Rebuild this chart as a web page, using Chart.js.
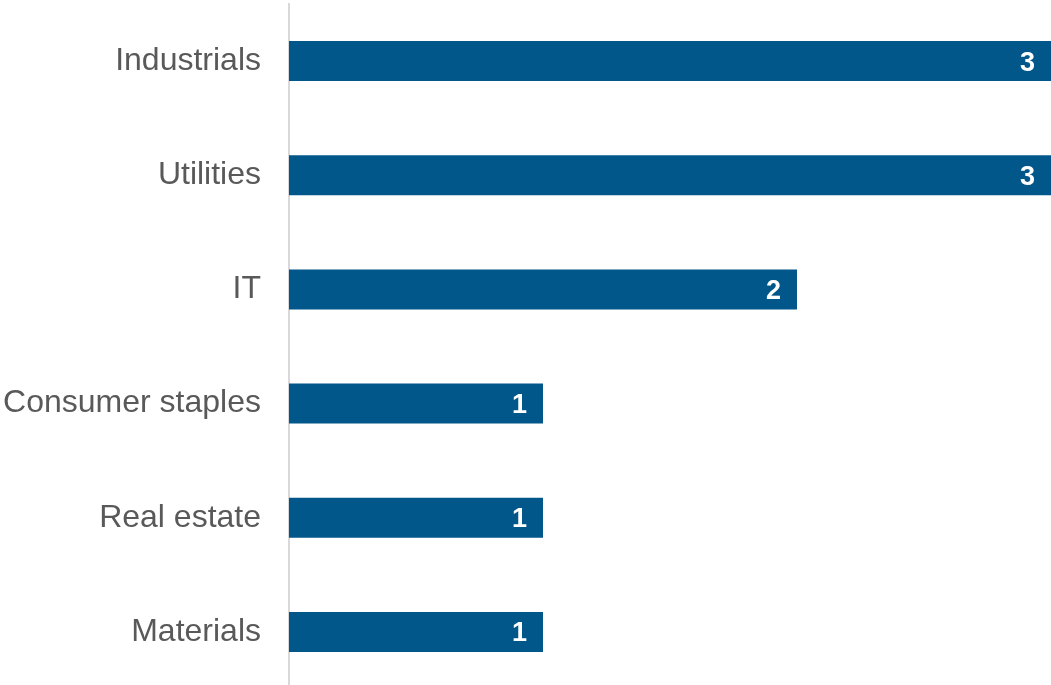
<!DOCTYPE html>
<html>
<head>
<meta charset="utf-8">
<script src="https://cdn.jsdelivr.net/npm/chart.js@4"></script>
<style>
    html, body { margin: 0; padding: 0; background: #fff; overflow: hidden; }
    #wrap { position: relative; width: 1051px; height: 689px; }
</style>
</head>
<body>
<div id="wrap"><canvas id="myChart"></canvas></div>
<script>
const labels = [
    'Industrials',
    'Utilities',
    'IT',
    'Consumer staples',
    'Real estate',
    'Materials',
];

const counts = [3, 3, 2, 1, 1, 1];

const barColor = '#02578A';

// white value labels inside the end of each bar
const valueLabels = {
    id: 'valueLabels',
    afterDatasetsDraw(chart) {
        const ctx = chart.ctx;
        const meta = chart.getDatasetMeta(0);
        ctx.save();
        ctx.font = 'bold 27px "Liberation Sans", Arial, sans-serif';
        ctx.fillStyle = '#ffffff';
        ctx.textAlign = 'right';
        ctx.textBaseline = 'middle';
        meta.data.forEach((bar, i) => {
            ctx.fillText(String(counts[i]), bar.x - 16, bar.y + 2);
        });
        ctx.restore();
    }
};

const data = {
    labels: labels,
    datasets: [{
        data: counts,
        backgroundColor: barColor,
        borderWidth: 0,
        categoryPercentage: 1,
        barPercentage: 0.35,
    }]
};

const config = {
    type: 'bar',
    data: data,
    plugins: [valueLabels],
    options: {
        indexAxis: 'y',
        responsive: true,
        maintainAspectRatio: false,
        animation: false,
        layout: { padding: { top: 4, right: 0, bottom: 0, left: 0 } },
        plugins: {
            legend: { display: false },
            tooltip: { enabled: false },
        },
        scales: {
            x: {
                display: false,
                min: 0,
                max: 3,
            },
            y: {
                grid: { display: false, drawTicks: false },
                border: { display: true, color: '#d9d9d9', width: 2 },
                ticks: {
                    color: '#595959',
                    padding: 28,
                    font: { family: '"Liberation Sans", Arial, sans-serif', size: 32 },
                },
                afterFit(scale) {
                    scale.width = 289;
                    scale.paddingTop = 0;
                    scale.paddingBottom = 0;
                },
            },
        },
    }
};

new Chart(
    document.getElementById('myChart'),
    config
);
</script>
</body>
</html>
